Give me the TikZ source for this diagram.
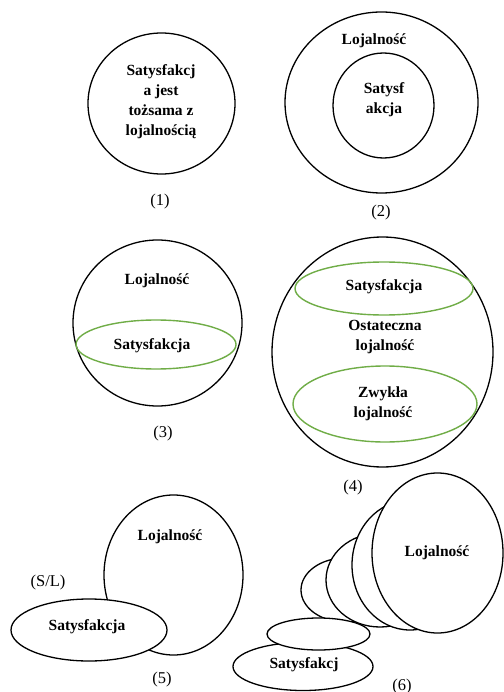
\documentclass[tikz,border=0pt]{standalone}
\usepackage{fontspec}
\setmainfont{Liberation Serif}
\usetikzlibrary{shapes.geometric}
\definecolor{ogreen}{RGB}{112,173,71}
\tikzset{
  el/.style 2 args={ellipse,draw=black,line width=1.3pt,inner sep=0pt,fill=white,minimum width=#1,minimum height=#2},
  gr/.style 2 args={ellipse,draw=ogreen,line width=1.4pt,inner sep=0pt,minimum width=#1,minimum height=#2},
  lbl/.style={font=\bfseries\fontsize{15.5}{20}\selectfont,align=center,inner sep=0pt},
  num/.style={font=\fontsize{16.5}{20}\selectfont,inner sep=0pt}
}
\begin{document}
\begin{tikzpicture}[x=1pt,y=-1pt]
\useasboundingbox (0,0) rectangle (503,692);
% (1)
\node[el={147pt}{141pt}] (c1) at (161.5,103.5) {};
\node[lbl] (t1) at (161,102) {Satysfakcj\\a jest\\tożsama z\\lojalnością};
\node[num] (n1) at (160,202) {(1)};
% (2)
\node[el={193pt}{181pt}] (c2o) at (381.5,102.5) {};
\node[el={101pt}{105pt}] (c2i) at (383.5,105.5) {};
\node[lbl] (t2a) at (374,41) {Lojalność};
\node[lbl] (t2b) at (384,99.5) {Satysf\\akcja};
\node[num] (n2) at (381,213) {(2)};
% (3)
\node[el={169pt}{166pt}] (c3) at (157.5,323) {};
\node[gr={160pt}{49pt}] (g3) at (156,344.5) {};
\node[lbl] (t3a) at (157,281) {Lojalność};
\node[lbl] (t3b) at (152,346) {Satysfakcja};
\node[num] (n3) at (163,434) {(3)};
% (4)
\node[el={221pt}{230pt}] (c4) at (382.5,352) {};
\node[gr={178pt}{53pt}] (g4a) at (384,288.5) {};
\node[gr={184pt}{76pt}] (g4b) at (385,404) {};
\node[lbl] (t4a) at (384,287) {Satysfakcja};
\node[lbl] (t4b) at (385,337) {Ostateczna\\lojalność};
\node[lbl] (t4c) at (383,404) {Zwykła\\lojalność};
\node[num] (n4) at (353,488) {(4)};
% (5)
\node[el={139pt}{160pt}] (e5a) at (173.5,575) {};
\node[el={156pt}{62pt}] (e5b) at (89,630) {};
\node[lbl] (t5a) at (170,537) {Lojalność};
\node[num] (t5sl) at (48,583) {(S/L)};
\node[lbl] (t5b) at (87,627) {Satysfakcja};
\node[num] (n5) at (162,680) {(5)};
% (6)
\node[el={88pt}{64pt}] (e6a) at (345,590) {};
\node[el={108pt}{94pt}] (e6b) at (380,580) {};
\node[el={116pt}{130pt}] (e6c) at (410,565) {};
\node[el={131pt}{160pt}] (e6d) at (437.5,553) {};
\node[lbl] (t6a) at (437,553) {Lojalność};
\node[el={140pt}{48pt}] (e6f) at (303,666.5) {};
\node[el={103pt}{32pt}] (e6e) at (318.5,634) {};
\node[lbl] (t6b) at (304,665) {Satysfakcj};
\node[num] (n6) at (402,687) {(6)};
\end{tikzpicture}
\end{document}
